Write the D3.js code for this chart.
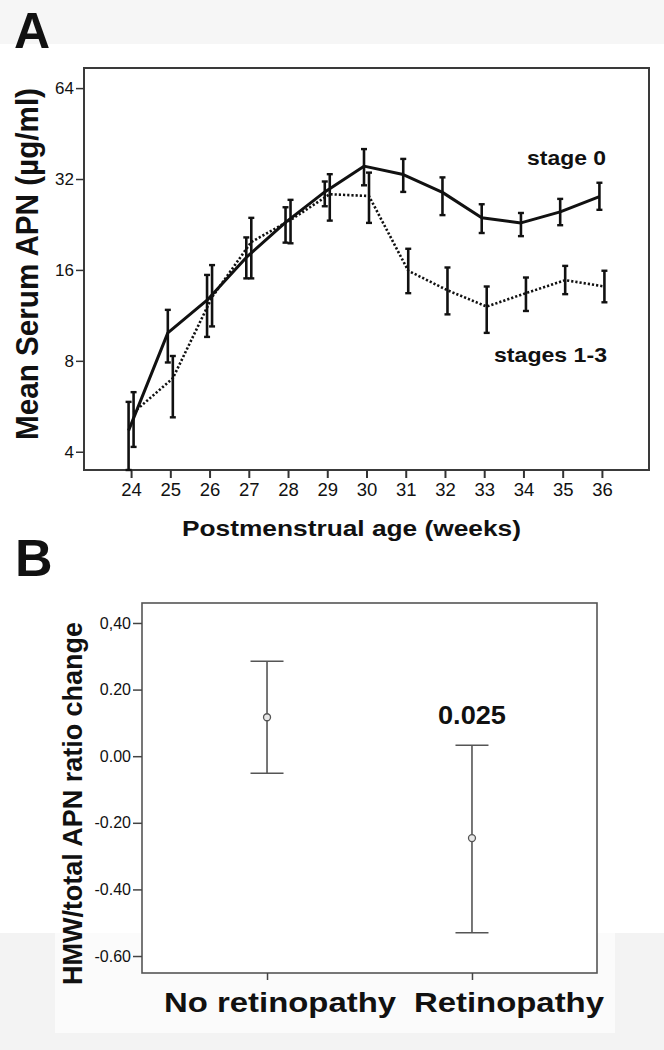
<!DOCTYPE html>
<html>
<head>
<meta charset="utf-8">
<script src="https://cdn.jsdelivr.net/npm/d3@7"></script>
<style>
  html, body { margin: 0; padding: 0; background: #fff; }
  svg { display: block; }
  text { font-family: "Liberation Sans", Arial, Helvetica, sans-serif; fill: #111; }
</style>
</head>
<body>
<svg id="chart" width="664" height="1050"></svg>
<script>
// ---------- Panel A data ----------
const weeks = [24, 25, 26, 27, 28, 29, 30, 31, 32, 33, 34, 35, 36];
const stage0Mean = [4.7, 9.9, 12.7, 17.6, 23.0, 29.0, 35.3, 33.1, 28.9, 23.8, 22.9, 24.9, 28.0];
const stage0Low  = [3.4, 7.9, 9.6, 15.0, 19.7, 26.0, 30.5, 29.0, 24.3, 21.2, 20.7, 22.5, 25.3];
const stage0High = [5.85, 11.8, 15.4, 20.5, 25.8, 31.4, 40.2, 37.3, 32.4, 26.4, 24.7, 27.5, 31.1];
const stages13Mean = [5.4, 7.0, 13.0, 19.8, 23.4, 28.5, 28.1, 15.9, 13.7, 12.1, 13.4, 14.8, 14.1];
const stages13Low  = [4.15, 5.2, 10.4, 15.0, 19.6, 23.3, 22.9, 13.4, 11.4, 9.9, 11.7, 13.3, 12.5];
const stages13High = [6.3, 8.3, 16.6, 23.8, 27.3, 33.2, 33.6, 18.8, 16.3, 14.1, 15.1, 16.5, 15.9];
const yTicksA = [4, 8, 16, 32, 64];
const seriesLabelsA = ["stage 0", "stages 1-3"];

// ---------- Panel B data ----------
const groupsB = ["No retinopathy", "Retinopathy"];
const meanB  = [0.117, -0.246];
const lowB   = [-0.051, -0.53];
const highB  = [0.285, 0.033];
const yTicksB = [0.4, 0.2, 0.0, -0.2, -0.4, -0.6];
const yTickLabelsB = ["0,40", "0.20", "0.00", "-0.20", "-0.40", "-0.60"];
const pLabelB = "0.025";

const svg = d3.select("#chart");

// faint scan background bands
svg.append("rect").attr("x", 0).attr("y", 0).attr("width", 664).attr("height", 44).attr("fill", "#f6f6f6");
svg.append("rect").attr("x", 0).attr("y", 933).attr("width", 664).attr("height", 117).attr("fill", "#f3f3f3");
svg.append("rect").attr("x", 55).attr("y", 933).attr("width", 560).attr("height", 100).attr("fill", "#fbfbfb");

// ================= Panel A =================
const A = { left: 84, right: 649, top: 68, bottom: 470 };
const xA = d3.scalePoint().domain(weeks).range([A.left, A.right]).padding(1.2);
const yA = d3.scaleLog().base(2).domain([3.48, 74.6]).range([A.bottom, A.top]).clamp(true);

svg.append("text").attr("x", 14).attr("y", 48).attr("font-size", 50).attr("font-weight", "bold").text("A");

const gA = svg.append("g");
gA.append("rect").attr("x", A.left).attr("y", A.top)
  .attr("width", A.right - A.left).attr("height", A.bottom - A.top)
  .attr("fill", "none").attr("stroke", "#3a3a3a").attr("stroke-width", 2);

const yAxisA = gA.append("g").attr("transform", `translate(${A.left},0)`)
  .call(d3.axisLeft(yA).tickValues(yTicksA).tickFormat(d3.format("d")).tickSize(8).tickPadding(2));
yAxisA.select(".domain").remove();
yAxisA.selectAll(".tick line").attr("stroke", "#333").attr("stroke-width", 1.5);
yAxisA.selectAll(".tick text").attr("font-size", 17).attr("fill", "#111").attr("font-family", null);

const xAxisA = gA.append("g").attr("transform", `translate(0,${A.bottom})`)
  .call(d3.axisBottom(xA).tickSize(8).tickPadding(5));
xAxisA.select(".domain").remove();
xAxisA.selectAll(".tick line").attr("stroke", "#333").attr("stroke-width", 2);
xAxisA.selectAll(".tick text").attr("font-size", 18.5).attr("fill", "#111").attr("font-family", null);

function drawSeries(mean, low, high, off, dash) {
  const pts = weeks.map((w, i) => ({ w, m: mean[i], lo: low[i], hi: high[i] }));
  const line = d3.line().x(d => xA(d.w) + off).y(d => yA(d.m));
  gA.append("path").datum(pts).attr("d", line)
    .attr("fill", "none").attr("stroke", "#111")
    .attr("stroke-width", dash ? 2.6 : 3)
    .attr("stroke-dasharray", dash ? "2.2,2" : null)
    .attr("stroke-linejoin", "round");
  const eb = gA.append("g").selectAll("g").data(pts).join("g");
  eb.append("line")
    .attr("x1", d => xA(d.w) + off).attr("x2", d => xA(d.w) + off)
    .attr("y1", d => yA(d.lo)).attr("y2", d => yA(d.hi))
    .attr("stroke", "#111").attr("stroke-width", 2.6);
  [d => d.lo, d => d.hi].forEach(acc => {
    eb.append("line")
      .attr("x1", d => xA(d.w) + off - 3).attr("x2", d => xA(d.w) + off + 3)
      .attr("y1", d => yA(acc(d))).attr("y2", d => yA(acc(d)))
      .attr("stroke", "#111").attr("stroke-width", 2.4);
  });
}
drawSeries(stage0Mean, stage0Low, stage0High, -2.5, false);
drawSeries(stages13Mean, stages13Low, stages13High, 2.5, true);

gA.append("text").attr("x", 527).attr("y", 165).attr("font-size", 21).attr("font-weight", "bold")
  .attr("textLength", 79).attr("lengthAdjust", "spacingAndGlyphs").text(seriesLabelsA[0]);
gA.append("text").attr("x", 494).attr("y", 362).attr("font-size", 21).attr("font-weight", "bold")
  .attr("textLength", 113).attr("lengthAdjust", "spacingAndGlyphs").text(seriesLabelsA[1]);

// axis titles A
svg.append("text").attr("transform", `translate(38,${(88 + 440) / 2}) rotate(-90)`)
  .attr("text-anchor", "middle").attr("font-size", 31).attr("font-weight", "bold")
  .attr("textLength", 352).attr("lengthAdjust", "spacingAndGlyphs")
  .text("Mean Serum APN (\u00B5g/ml)");
svg.append("text").attr("x", (182 + 521) / 2).attr("y", 536)
  .attr("text-anchor", "middle").attr("font-size", 22).attr("font-weight", "bold")
  .attr("textLength", 339).attr("lengthAdjust", "spacingAndGlyphs")
  .text("Postmenstrual age (weeks)");

// ================= Panel B =================
const B = { left: 142, right: 597, top: 603, bottom: 973 };
const xB = d3.scalePoint().domain(groupsB).range([B.left, B.right]).padding(0.61);
const yB = d3.scaleLinear().domain([-0.651, 0.460]).range([B.bottom, B.top]);

svg.append("text").attr("x", 15).attr("y", 576).attr("font-size", 52).attr("font-weight", "bold").text("B");

const gB = svg.append("g");
gB.append("rect").attr("x", B.left).attr("y", B.top)
  .attr("width", B.right - B.left).attr("height", B.bottom - B.top)
  .attr("fill", "#fff").attr("stroke", "#555").attr("stroke-width", 1.6);

const yAxisB = gB.append("g").attr("transform", `translate(${B.left},0)`)
  .call(d3.axisLeft(yB).tickValues(yTicksB).tickFormat((d, i) => yTickLabelsB[i]).tickSize(9).tickPadding(2));
yAxisB.select(".domain").remove();
yAxisB.selectAll(".tick line").attr("stroke", "#444").attr("stroke-width", 1.5);
yAxisB.selectAll(".tick text").attr("font-size", 16).attr("fill", "#111").attr("font-family", null);

const xAxisB = gB.append("g").attr("transform", `translate(0,${B.bottom})`)
  .call(d3.axisBottom(xB).tickSize(7).tickFormat(""));
xAxisB.select(".domain").remove();
xAxisB.selectAll(".tick line").attr("stroke", "#444").attr("stroke-width", 1.5);

const ptsB = groupsB.map((g, i) => ({ g, m: meanB[i], lo: lowB[i], hi: highB[i] }));
const ebB = gB.append("g").selectAll("g").data(ptsB).join("g");
ebB.append("line")
  .attr("x1", d => xB(d.g)).attr("x2", d => xB(d.g))
  .attr("y1", d => yB(d.lo)).attr("y2", d => yB(d.hi))
  .attr("stroke", "#555").attr("stroke-width", 1.6);
[d => d.lo, d => d.hi].forEach(acc => {
  ebB.append("line")
    .attr("x1", d => xB(d.g) - 16.5).attr("x2", d => xB(d.g) + 16.5)
    .attr("y1", d => yB(acc(d))).attr("y2", d => yB(acc(d)))
    .attr("stroke", "#555").attr("stroke-width", 1.6);
});
ebB.append("circle").attr("cx", d => xB(d.g)).attr("cy", d => yB(d.m)).attr("r", 3.5)
  .attr("fill", "#e8e8e8").attr("stroke", "#555").attr("stroke-width", 1.3);

gB.append("text").attr("x", xB(groupsB[1])).attr("y", 724).attr("text-anchor", "middle")
  .attr("font-size", 25).attr("font-weight", "bold")
  .attr("textLength", 68).attr("lengthAdjust", "spacingAndGlyphs").text(pLabelB);

// category labels
const catWidths = [232, 190];
const catOffsets = [13, 37];
gB.selectAll("text.cat").data(groupsB).join("text").attr("class", "cat")
  .attr("x", (d, i) => xB(d) + catOffsets[i]).attr("y", 1012)
  .attr("text-anchor", "middle").attr("font-size", 28).attr("font-weight", "bold")
  .attr("textLength", (d, i) => catWidths[i]).attr("lengthAdjust", "spacingAndGlyphs")
  .text(d => d);

svg.append("text").attr("transform", `translate(82,${(622 + 985) / 2}) rotate(-90)`)
  .attr("text-anchor", "middle").attr("font-size", 27).attr("font-weight", "bold")
  .attr("textLength", 363).attr("lengthAdjust", "spacingAndGlyphs")
  .text("HMW/total APN ratio change");
</script>
</body>
</html>
